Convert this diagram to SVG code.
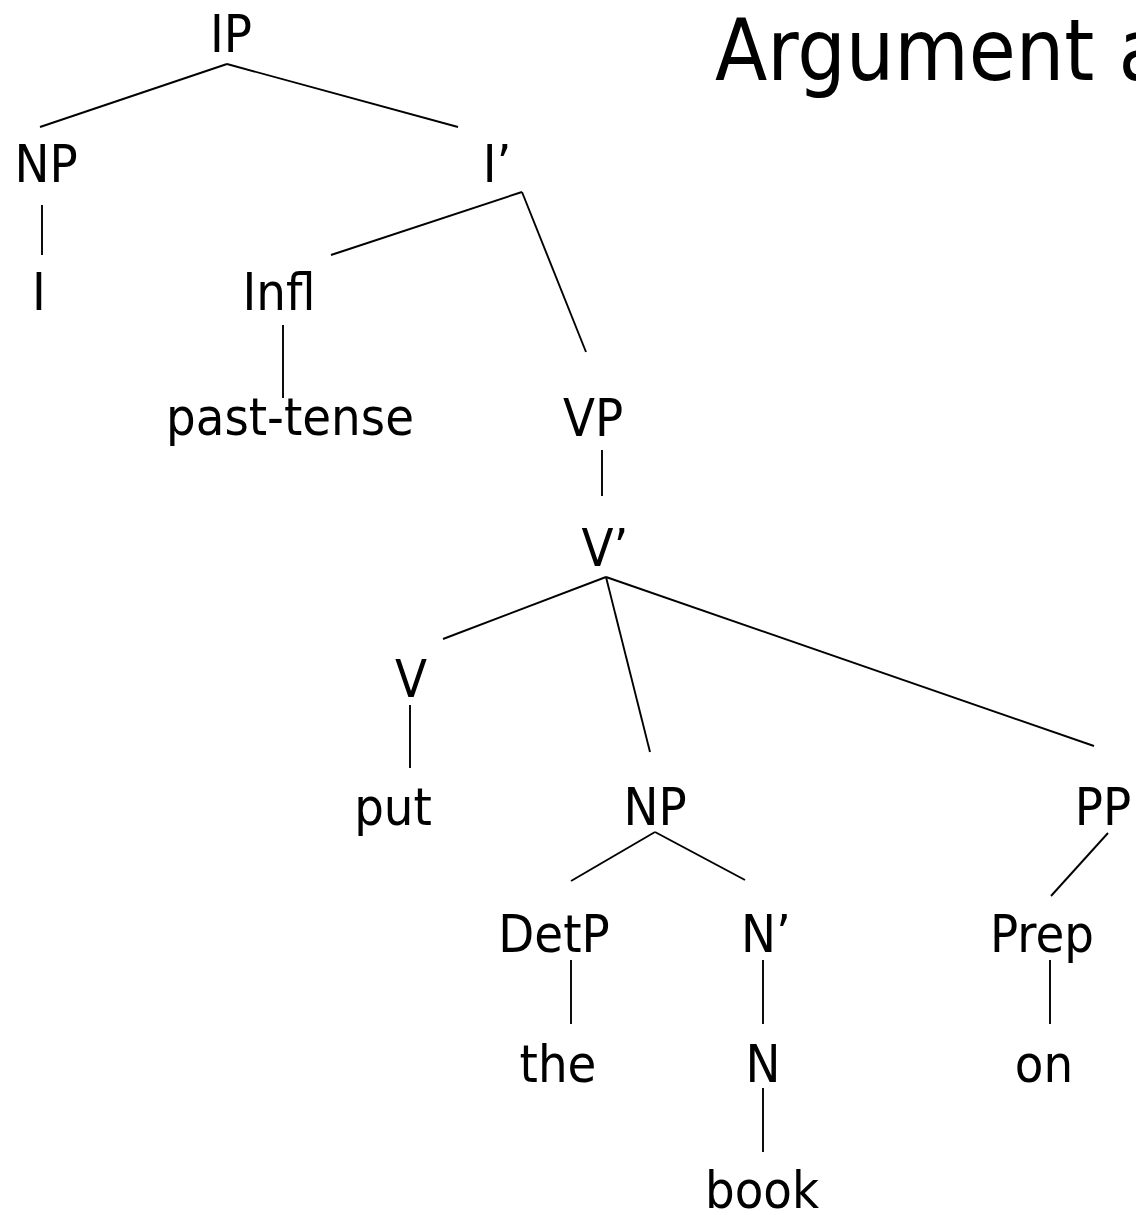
<svg xmlns="http://www.w3.org/2000/svg" width="1136" height="1215" viewBox="0 0 1136 1215">
<style>
text{font-family:"DejaVu Sans Condensed","DejaVu Sans",sans-serif;font-stretch:condensed;font-size:52px;fill:#000;text-anchor:middle}
.title{font-size:85px;text-anchor:start}
#edges line{stroke:#000;stroke-width:1.9;fill:none}
</style>
<rect width="1136" height="1215" fill="#fff"/>
<text class="title" x="715" y="80">Argument a</text>
<g id="edges">
<line x1="227" y1="64" x2="40" y2="127"/>
<line x1="227" y1="64" x2="458" y2="127"/>
<line x1="42" y1="205" x2="42" y2="255"/>
<line x1="522" y1="192" x2="331" y2="255"/>
<line x1="522" y1="192" x2="586" y2="352"/>
<line x1="283" y1="325" x2="283" y2="398"/>
<line x1="602" y1="450" x2="602" y2="496"/>
<line x1="606" y1="577" x2="443" y2="639"/>
<line x1="606" y1="577" x2="650" y2="752"/>
<line x1="606" y1="577" x2="1094" y2="746"/>
<line x1="410" y1="705" x2="410" y2="768"/>
<line x1="655" y1="832" x2="571" y2="881"/>
<line x1="655" y1="832" x2="745" y2="880"/>
<line x1="1108" y1="833" x2="1051" y2="896"/>
<line x1="571" y1="960" x2="571" y2="1024"/>
<line x1="763" y1="960" x2="763" y2="1024"/>
<line x1="1050" y1="960" x2="1050" y2="1024"/>
<line x1="763" y1="1088" x2="763" y2="1152"/>
</g>
<g id="n-IP"><text x="231" y="52">IP</text></g>
<g id="n-NP1"><text x="46" y="182">NP</text></g>
<g id="n-Ibar"><text x="497" y="182">I’</text></g>
<g id="n-I"><text x="39" y="310">I</text></g>
<g id="n-Infl"><text x="279" y="310">Infl</text></g>
<g id="n-past"><text x="290" y="435">past-tense</text></g>
<g id="n-VP"><text x="593" y="436">VP</text></g>
<g id="n-Vbar"><text x="605" y="566">V’</text></g>
<g id="n-V"><text x="411" y="697">V</text></g>
<g id="n-put"><text x="393" y="825">put</text></g>
<g id="n-NP2"><text x="655" y="825">NP</text></g>
<g id="n-PP"><text x="1103" y="825">PP</text></g>
<g id="n-DetP"><text x="554" y="952">DetP</text></g>
<g id="n-Nbar"><text x="766" y="952">N’</text></g>
<g id="n-Prep"><text x="1042" y="952">Prep</text></g>
<g id="n-the"><text x="558" y="1082">the</text></g>
<g id="n-N"><text x="763" y="1082">N</text></g>
<g id="n-on"><text x="1044" y="1082">on</text></g>
<g id="n-book"><text x="762" y="1208">book</text></g>
</svg>
